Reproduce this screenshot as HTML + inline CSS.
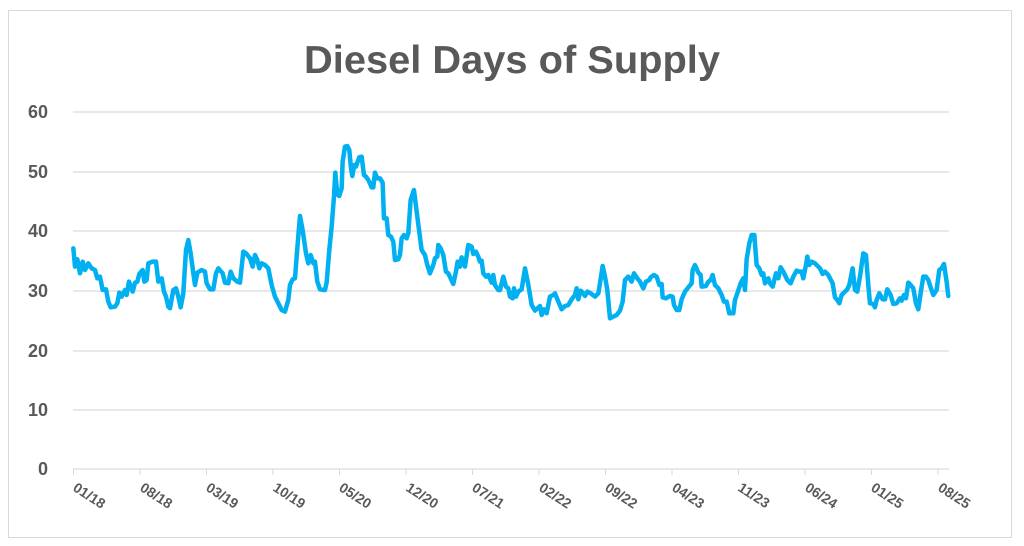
<!DOCTYPE html>
<html><head><meta charset="utf-8"><style>
body{margin:0;background:#fff;}
svg{display:block;font-family:"Liberation Sans",Arial,sans-serif;}
</style></head><body>
<svg width="1024" height="546" viewBox="0 0 1024 546">
<rect x="0" y="0" width="1024" height="546" fill="#fff"/>
<rect x="8.5" y="10.5" width="1003" height="527" fill="#fff" stroke="#d9d9d9" stroke-width="1"/>
<text x="512" y="73" text-anchor="middle" font-size="39" font-weight="bold" fill="#595959" textLength="416" lengthAdjust="spacingAndGlyphs">Diesel Days of Supply</text>
<g stroke="#d9d9d9" stroke-width="1.3">
<line x1="73" x2="949" y1="112" y2="112"/><line x1="73" x2="949" y1="172" y2="172"/>
<line x1="73" x2="949" y1="231" y2="231"/><line x1="73" x2="949" y1="291" y2="291"/>
<line x1="73" x2="949" y1="351" y2="351"/><line x1="73" x2="949" y1="410" y2="410"/>
<line x1="73" x2="949" y1="469" y2="469"/>
</g>
<g stroke="#d9d9d9" stroke-width="1">
<line x1="73.5" x2="73.5" y1="469" y2="475"/><line x1="140" x2="140" y1="469" y2="475"/>
<line x1="206.5" x2="206.5" y1="469" y2="475"/><line x1="273" x2="273" y1="469" y2="475"/>
<line x1="339.5" x2="339.5" y1="469" y2="475"/><line x1="406" x2="406" y1="469" y2="475"/>
<line x1="472.5" x2="472.5" y1="469" y2="475"/><line x1="539" x2="539" y1="469" y2="475"/>
<line x1="605.5" x2="605.5" y1="469" y2="475"/><line x1="672" x2="672" y1="469" y2="475"/>
<line x1="738.5" x2="738.5" y1="469" y2="475"/><line x1="805" x2="805" y1="469" y2="475"/>
<line x1="871.5" x2="871.5" y1="469" y2="475"/><line x1="938" x2="938" y1="469" y2="475"/>
</g>
<g font-size="18" font-weight="bold" fill="#595959" text-anchor="end">
<text x="48" y="118">60</text><text x="48" y="178">50</text><text x="48" y="237">40</text>
<text x="48" y="297">30</text><text x="48" y="357">20</text><text x="48" y="416">10</text>
<text x="48" y="475">0</text>
</g>
<g font-size="14" font-weight="bold" fill="#595959">
<text transform="translate(72,490) rotate(33)">01/18</text>
<text transform="translate(139,490) rotate(33)">08/18</text>
<text transform="translate(205,490) rotate(33)">03/19</text>
<text transform="translate(272,490) rotate(33)">10/19</text>
<text transform="translate(338,490) rotate(33)">05/20</text>
<text transform="translate(405,490) rotate(33)">12/20</text>
<text transform="translate(471,490) rotate(33)">07/21</text>
<text transform="translate(538,490) rotate(33)">02/22</text>
<text transform="translate(604,490) rotate(33)">09/22</text>
<text transform="translate(671,490) rotate(33)">04/23</text>
<text transform="translate(737,490) rotate(33)">11/23</text>
<text transform="translate(804,490) rotate(33)">06/24</text>
<text transform="translate(870,490) rotate(33)">01/25</text>
<text transform="translate(937,490) rotate(33)">08/25</text>
</g>
<g fill="none" stroke="#00b0f0" stroke-width="13.5" stroke-linejoin="round" stroke-linecap="round">
<polyline transform="translate(60,100) scale(0.3333)" points="40,445 45,500 52,478 60,520 68,485 75,510 85,490 95,505 105,510 112,535 120,530 128,570 138,568 145,605 152,622 165,620 172,610 178,578 185,590 195,570 200,585 207,545 213,560 218,575 225,548 232,545 238,522 248,510 253,545 260,540 265,490 278,485 288,485 295,545 305,535 312,575 318,590 325,620 330,625 340,570 348,565 355,590 362,622 370,580 378,450 385,420 392,460 400,520 405,555 412,518 425,510 435,515 440,550 450,568 460,568 468,520 475,505 488,520 495,548 505,550 512,515 520,535 532,545 540,548 550,455 558,460 570,475 578,500 585,465 592,480 598,505 605,490 615,495 625,505 635,555 645,590 655,610 665,630 675,635 685,600 690,555 698,538 705,535 712,445 720,348 728,390 738,460 745,490 752,465 760,490 765,485 772,545 780,568 790,570 795,570 800,548 808,450 815,380 822,290 826,218 832,283 838,288 845,265 848,185 855,140 862,138 868,150 873,205 877,228 883,195 888,200 893,185 898,172 905,170 912,225 918,230 925,240 930,250 935,262 940,262 945,218 952,235 960,235 968,248 972,355 980,355 985,405 993,410 1000,425 1005,480 1015,478 1020,465 1025,415 1032,405 1040,415 1045,400 1052,300 1062,270 1072,350 1085,450 1095,465 1102,495 1110,520 1120,495 1125,475 1132,470 1135,435 1142,445 1150,465 1158,515 1165,520 1172,535 1180,552 1188,515 1193,485 1200,500 1205,472 1215,500 1225,435 1235,440 1240,462 1248,455 1255,470 1260,485 1265,482 1270,520 1278,530 1285,525 1295,548 1300,525 1305,555 1315,570 1320,570"/>
<polyline transform="translate(500,100) scale(0.3333)" points="0,570 10,530 18,560 25,565 30,590 38,595 42,565 48,590 55,575 65,568 75,505 85,555 95,615 105,632 120,618 125,645 132,628 140,640 150,590 160,585 165,580 175,605 185,628 195,618 205,615 215,598 225,585 230,565 235,598 242,572 250,580 255,588 262,575 272,580 285,590 295,580 300,550 308,498 315,530 322,570 330,655 340,650 350,645 360,632 368,605 375,540 385,530 395,545 402,520 412,535 420,545 430,565 438,545 448,540 452,532 462,525 470,530 478,555 485,552 488,592 498,595 510,588 518,590 522,615 530,630 538,630 545,598 555,575 565,562 575,550 578,510 585,495 595,518 602,525 605,560 618,558 625,545 632,540 638,525 645,555 655,565 665,585 672,605 680,605 688,640 700,640 705,600 712,580 722,550 730,535 735,570 740,478 748,430 755,405 763,405 770,495 778,505 785,525 790,520 795,550 805,535 810,550 818,560 828,520 835,535 842,502 850,515 862,540 872,550 880,530 890,512 898,515 905,515 910,535 918,495 922,470 928,495 935,485 945,490 960,505 968,522 975,515 985,525 990,535 998,550 1005,592 1012,600 1018,610 1025,585 1035,575 1042,568 1048,555 1058,505 1065,570 1072,575 1080,530 1090,460 1098,465 1105,555 1110,610 1120,612 1125,622 1130,600 1138,580 1148,598 1155,598 1162,568 1172,585 1180,612 1190,610 1200,595 1205,602 1212,585 1218,595 1225,548 1232,555 1240,565 1248,610 1255,628 1262,580 1270,530 1278,530 1285,540 1292,562 1300,585 1310,570 1318,510 1325,505 1332,492 1340,545 1345,588"/>
</g>
</svg>
</body></html>
